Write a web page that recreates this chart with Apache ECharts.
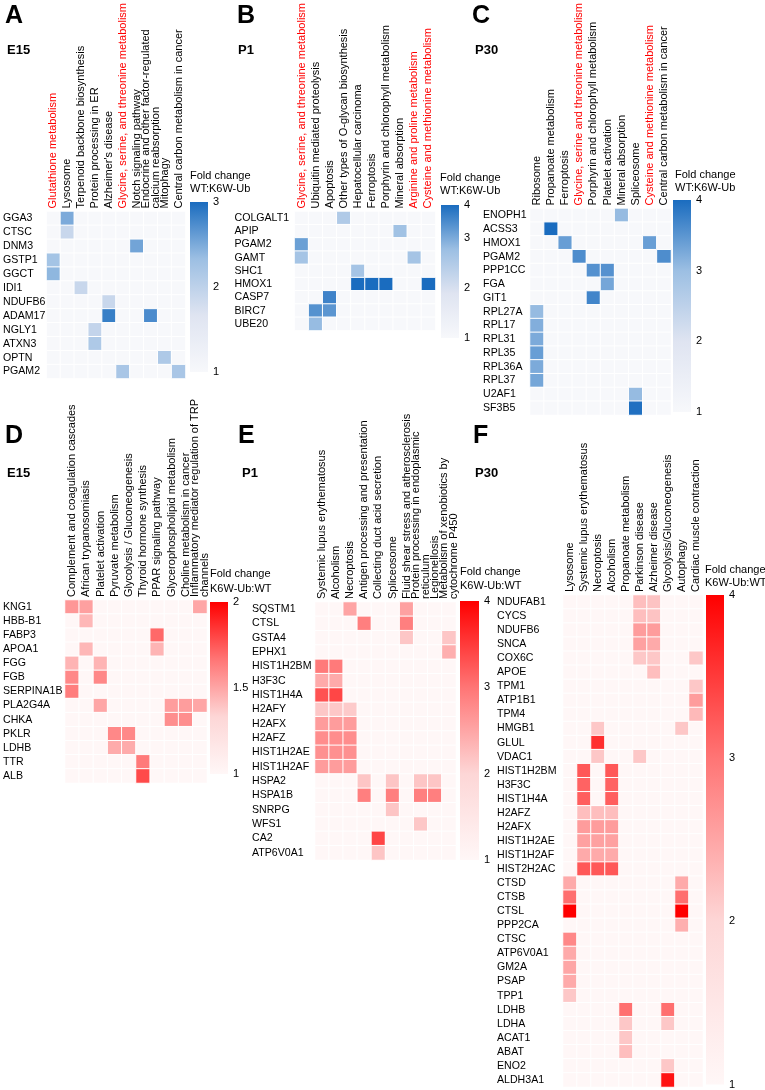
<!DOCTYPE html>
<html><head><meta charset="utf-8">
<script src="https://cdn.jsdelivr.net/npm/echarts@6/dist/echarts.min.js"></script>
<style>html,body{margin:0;padding:0;background:#fff}#c{width:765px;height:1090px}</style>
</head><body><div id="c"></div>
<script>
// ---------------- DATA ----------------
const A_rows = ['GGA3','CTSC','DNM3','GSTP1','GGCT','IDI1','NDUFB6','ADAM17','NGLY1','ATXN3','OPTN','PGAM2'];
const A_cols = ['Glutathione metabolism','Lysosome','Terpenoid backbone biosynthesis','Protein processing in ER',"Alzheimer's disease",'Glycine, serine, and threonine metabolism','Notch signaling pathway','Endocrine and other factor-regulated\ncalcium reabsorption','Mitophagy','Central carbon metabolism in cancer'];
const A_red = [0,5];
const A_scale = [1,3,1];
const A_cells = [['GGA3',1,2.5],['CTSC',1,1.9],['DNM3',6,2.55],['GSTP1',0,2.25],['GGCT',0,2.4],['IDI1',2,1.9],['NDUFB6',4,1.9],['ADAM17',4,2.85],['ADAM17',7,2.75],['NGLY1',3,1.95],['ATXN3',3,2.15],['OPTN',8,2.15],['PGAM2',5,2.2],['PGAM2',9,2.2]];

const B_rows = ['COLGALT1','APIP','PGAM2','GAMT','SHC1','HMOX1','CASP7','BIRC7','UBE20'];
const B_cols = ['Glycine, serine, and threonine metabolism','Ubiquitin mediated proteolysis','Apoptosis','Other types of O-glycan biosynthesis','Hepatocellular carcinoma','Ferroptosis','Porphyrin and chlorophyll metabolism','Mineral absorption','Arginine and proline metabolism','Cysteine and methionine metabolism'];
const B_red = [0,8,9];
const B_scale = [1,3.65,1];
const B_cells = [['COLGALT1',3,2.5],['APIP',7,2.7],['PGAM2',0,3.1],['GAMT',0,2.65],['GAMT',8,2.65],['SHC1',4,2.65],['HMOX1',4,3.65],['HMOX1',5,3.65],['HMOX1',6,3.65],['HMOX1',9,3.65],['CASP7',2,3.4],['BIRC7',1,3.25],['BIRC7',2,3.2],['UBE20',1,2.8]];

const C_rows = ['ENOPH1','ACSS3','HMOX1','PGAM2','PPP1CC','FGA','GIT1','RPL27A','RPL17','RPL31','RPL35','RPL36A','RPL37','U2AF1','SF3B5'];
const C_cols = ['Ribosome','Propanoate metabolism','Ferroptosis','Glycine, serine and threonine metabolism','Porphyrin and chlorophyll metabolism','Platelet activation','Mineral absorption','Spliceosome','Cysteine and methionine metabolism','Central carbon metabolism in cancer'];
const C_red = [3,8];
const C_scale = [1,4,1];
const C_cells = [['ENOPH1',6,3.05],['ACSS3',1,4],['HMOX1',2,3.4],['HMOX1',8,3.4],['PGAM2',3,3.6],['PGAM2',9,3.6],['PPP1CC',4,3.55],['PPP1CC',5,3.55],['FGA',5,3.3],['GIT1',4,3.7],['RPL27A',0,3.05],['RPL17',0,3.2],['RPL31',0,3.25],['RPL35',0,3.4],['RPL36A',0,3.25],['RPL37',0,3.3],['U2AF1',7,3.05],['SF3B5',7,3.95]];

const D_rows = ['KNG1','HBB-B1','FABP3','APOA1','FGG','FGB','SERPINA1B','PLA2G4A','CHKA','PKLR','LDHB','TTR','ALB'];
const D_cols = ['Complement and coagulation cascades','African trypanosomiasis','Platelet activation','Pyruvate metabolism','Glycolysis / Gluconeogenesis','Thyroid hormone synthesis','PPAR signaling pathway','Glycerophospholipid metabolism','Choline metabolism in cancer','Inflammatory mediator regulation of TRP\nchannels'];
const D_red = [];
const D_scale = [1,2,0.5];
const D_cells = [['KNG1',0,1.55],['KNG1',1,1.52],['KNG1',9,1.5],['HBB-B1',1,1.44],['FABP3',6,1.7],['APOA1',1,1.44],['APOA1',6,1.45],['FGG',0,1.45],['FGG',2,1.45],['FGB',0,1.6],['FGB',2,1.6],['SERPINA1B',0,1.64],['PLA2G4A',2,1.5],['PLA2G4A',7,1.53],['PLA2G4A',8,1.53],['PLA2G4A',9,1.5],['CHKA',7,1.58],['CHKA',8,1.58],['PKLR',3,1.6],['PKLR',4,1.6],['LDHB',3,1.48],['LDHB',4,1.48],['TTR',5,1.65],['ALB',5,1.79]];

const E_rows = ['SQSTM1','CTSL','GSTA4','EPHX1','HIST1H2BM','H3F3C','HIST1H4A','H2AFY','H2AFX','H2AFZ','HIST1H2AE','HIST1H2AF','HSPA2','HSPA1B','SNRPG','WFS1','CA2','ATP6V0A1'];
const E_cols = ['Systemic lupus erythematosus','Alcoholism','Necroptosis','Antigen processing and presentation','Collecting duct acid secretion','Spliceosome','Fluid shear stress and atherosclerosis','Protein processing in endoplasmic\nreticulum','Legionellosis','Metabolism of xenobiotics by\ncytochrome P450'];
const E_red = [];
const E_scale = [1,4,1];
const E_cells = [['SQSTM1',2,2.52],['SQSTM1',6,2.55],['CTSL',3,2.9],['CTSL',6,2.9],['GSTA4',6,2.17],['GSTA4',9,2.17],['EPHX1',9,2.4],
['HIST1H2BM',0,2.95],['HIST1H2BM',1,2.95],['H3F3C',0,2.45],['H3F3C',1,2.45],['HIST1H4A',0,3.3],['HIST1H4A',1,3.4],
['H2AFY',0,2.15],['H2AFY',1,2.15],['H2AFY',2,2.12],['H2AFX',0,2.6],['H2AFX',1,2.6],['H2AFX',2,2.6],
['H2AFZ',0,2.75],['H2AFZ',1,2.75],['H2AFZ',2,2.75],['HIST1H2AE',0,2.72],['HIST1H2AE',1,2.72],['HIST1H2AE',2,2.72],
['HIST1H2AF',0,2.6],['HIST1H2AF',1,2.6],['HIST1H2AF',2,2.6],
['HSPA2',3,2.18],['HSPA2',5,2.18],['HSPA2',7,2.18],['HSPA2',8,2.18],['HSPA1B',3,2.9],['HSPA1B',5,2.9],['HSPA1B',7,2.9],['HSPA1B',8,2.9],
['SNRPG',5,2.18],['WFS1',7,2.15],['CA2',4,3.4],['ATP6V0A1',4,2.18]];

const F_rows = ['NDUFAB1','CYCS','NDUFB6','SNCA','COX6C','APOE','TPM1','ATP1B1','TPM4','HMGB1','GLUL','VDAC1','HIST1H2BM','H3F3C','HIST1H4A','H2AFZ','H2AFX','HIST1H2AE','HIST1H2AF','HIST2H2AC','CTSD','CTSB','CTSL','PPP2CA','CTSC','ATP6V0A1','GM2A','PSAP','TPP1','LDHB','LDHA','ACAT1','ABAT','ENO2','ALDH3A1'];
const F_cols = ['Lysosome','Systemic lupus erythematosus','Necroptosis','Alcoholism','Propanoate metabolism','Parkinson disease','Alzheimer disease','Glycolysis/Gluconeogenesis','Autophagy','Cardiac muscle contraction'];
const F_red = [];
const F_scale = [1,4,1];
const F_cells = [['NDUFAB1',5,2.25],['NDUFAB1',6,2.2],['CYCS',5,2.25],['CYCS',6,2.2],['NDUFB6',5,2.6],['NDUFB6',6,2.6],['SNCA',5,2.55],['SNCA',6,2.45],
['COX6C',5,2.15],['COX6C',6,2.15],['COX6C',9,2.15],['APOE',6,2.25],['TPM1',9,2.15],['ATP1B1',9,2.6],['TPM4',9,2.3],
['HMGB1',2,2.15],['HMGB1',8,2.15],['GLUL',2,3.6],['VDAC1',2,2.15],['VDAC1',5,2.15],
['HIST1H2BM',1,3.25],['HIST1H2BM',3,3.25],['H3F3C',1,3.15],['H3F3C',3,3.15],['HIST1H4A',1,3.2],['HIST1H4A',3,3.2],
['H2AFZ',1,2.25],['H2AFZ',2,2.25],['H2AFZ',3,2.25],['H2AFX',1,2.6],['H2AFX',2,2.6],['H2AFX',3,2.6],
['HIST1H2AE',1,2.55],['HIST1H2AE',2,2.55],['HIST1H2AE',3,2.55],['HIST1H2AF',1,2.45],['HIST1H2AF',2,2.45],['HIST1H2AF',3,2.45],
['HIST2H2AC',1,3.25],['HIST2H2AC',2,3.25],['HIST2H2AC',3,3.25],
['CTSD',0,2.45],['CTSD',8,2.45],['CTSB',0,3.05],['CTSB',8,3.05],['CTSL',0,4],['CTSL',8,4],['PPP2CA',8,2.4],
['CTSC',0,2.8],['ATP6V0A1',0,2.45],['GM2A',0,2.5],['PSAP',0,2.45],['TPP1',0,2.15],
['LDHB',4,3.05],['LDHB',7,3.05],['LDHA',4,2.15],['LDHA',7,2.15],['ACAT1',4,2.15],['ABAT',4,2.25],['ENO2',7,2.15],['ALDH3A1',7,3.85]];

// ---------------- STYLE / LAYOUT ----------------
const FONT = "'Liberation Sans', Arial, Helvetica, sans-serif";
const BLUE = ['#f7f8fb','#dfe4f1','#9cbfe3','#1a6cbf'];
const RED  = ['#fff7f7','#fdd6d6','#ff7575','#ff0000'];
const LABEL_RED = '#ff0000';

const panels = [
  {letter:'A', sub:'E15', rows:A_rows, cols:A_cols, red:A_red, scale:A_scale, cells:A_cells, colors:BLUE, legend:['Fold change','WT:K6W-Ub'],
   grid:{left:45.5,top:209.5,width:140,height:169}, labelX:2, bar:{left:190,top:202,width:18,height:170},
   letterPos:[5,16], subPos:[7,50], legendPos:[190,176,189]},
  {letter:'B', sub:'P1', rows:B_rows, cols:B_cols, red:B_red, scale:B_scale, cells:B_cells, colors:BLUE, legend:['Fold change','WT:K6W-Ub'],
   grid:{left:294.5,top:205.5,width:141,height:125}, labelX:234.5, bar:{left:441,top:205,width:18,height:133},
   letterPos:[237,16], subPos:[238,50], legendPos:[440,178,191]},
  {letter:'C', sub:'P30', rows:C_rows, cols:C_cols, red:C_red, scale:C_scale, cells:C_cells, colors:BLUE, legend:['Fold change','WT:K6W-Ub'],
   grid:{left:530,top:202,width:141,height:213}, labelX:483, bar:{left:673,top:200,width:18,height:212},
   letterPos:[472,16], subPos:[475,50], legendPos:[675,175,188]},
  {letter:'D', sub:'E15', rows:D_rows, cols:D_cols, red:D_red, scale:D_scale, cells:D_cells, colors:RED, legend:['Fold change','K6W-Ub:WT'],
   grid:{left:64,top:600,width:143,height:183}, labelX:2, bar:{left:210,top:602,width:18,height:172},
   letterPos:[5,436], subPos:[7,473], legendPos:[210,574,589]},
  {letter:'E', sub:'P1', rows:E_rows, cols:E_cols, red:E_red, scale:E_scale, cells:E_cells, colors:RED, legend:['Fold change','K6W-Ub:WT'],
   grid:{left:315,top:602,width:141,height:258}, labelX:252, bar:{left:460,top:601,width:19,height:259},
   letterPos:[238,436], subPos:[242,473], legendPos:[460,572,586]},
  {letter:'F', sub:'P30', rows:F_rows, cols:F_cols, red:F_red, scale:F_scale, cells:F_cells, colors:RED, legend:['Fold change','K6W-Ub:WT'],
   grid:{left:563,top:595,width:140,height:492}, labelX:497, bar:{left:706,top:595,width:18,height:490},
   letterPos:[473,436], subPos:[475,473], legendPos:[705,570,583]}
];

// ---------------- BUILD ----------------
const option = {animation:false, backgroundColor:'#fff', textStyle:{fontFamily:FONT},
  grid:[], xAxis:[], yAxis:[], series:[], visualMap:[], graphic:[]};

panels.forEach((p, i) => {
  const gi = 2*i, bi = 2*i+1;
  const lo = p.scale[0], hi = p.scale[1], step = p.scale[2];
  option.grid.push(Object.assign({containLabel:false}, p.grid));
  option.grid.push(Object.assign({containLabel:false}, p.bar));

  option.xAxis.push({type:'category', gridIndex:gi, position:'top',
    data: p.cols.map((c,k) => p.red.indexOf(k) >= 0 ? {value:c, textStyle:{color:LABEL_RED}} : c),
    axisLine:{show:false}, axisTick:{show:false}, splitLine:{show:false},
    axisLabel:{rotate:-90, interval:0, margin:3, fontSize:11, color:'#000', fontFamily:FONT, lineHeight:10, overflow:'none'}});
  option.yAxis.push({type:'category', gridIndex:gi, inverse:true, data:p.rows,
    axisLine:{show:false}, axisTick:{show:false}, splitLine:{show:false},
    axisLabel:{interval:0, align:'left', margin:p.grid.left - p.labelX, fontSize:10.6, color:'#000', fontFamily:FONT, overflow:'none'}});

  option.xAxis.push({type:'category', gridIndex:bi, data:['scale'], show:false});
  option.yAxis.push({type:'value', gridIndex:bi, position:'right', min:lo, max:hi, interval:step,
    axisLine:{show:false}, axisTick:{show:false}, splitLine:{show:false},
    axisLabel:{margin:5, fontSize:11, color:'#000', fontFamily:FONT, showMinLabel:true, showMaxLabel:true,
      formatter: function(v){
        if (Math.abs(v-hi) < 1e-9) return String(Math.round(v) === v ? v : Math.round(v));
        if (hi !== Math.round(hi) && v === Math.round(hi)) return '';
        return String(v);
      }}});

  // heatmap data
  const lookup = {};
  p.cells.forEach(c => { lookup[c[0]+'|'+c[1]] = c[2]; });
  const data = [];
  p.rows.forEach((r, ri) => {
    p.cols.forEach((c, ci) => {
      const v = lookup[r+'|'+ci];
      data.push([ci, ri, v === undefined ? lo : v]);
    });
  });
  const hmIndex = option.series.length;
  option.series.push({type:'heatmap', xAxisIndex:gi, yAxisIndex:gi, data:data,
    itemStyle:{borderColor:'#ffffff', borderWidth:1}, emphasis:{disabled:true}, silent:true});
  option.visualMap.push({type:'continuous', show:false, min:lo, max:hi, dimension:2,
    seriesIndex:hmIndex, inRange:{color:p.colors}});

  // colour bar (stacked: transparent base up to min, then gradient from min to max)
  const stops = p.colors.slice().reverse().map((c,k,arr) => ({offset:k/(arr.length-1), color:c}));
  option.series.push({type:'bar', xAxisIndex:bi, yAxisIndex:bi, stack:'cb'+i, data:[lo],
    barWidth:'100%', itemStyle:{color:'rgba(0,0,0,0)'}, silent:true});
  option.series.push({type:'bar', xAxisIndex:bi, yAxisIndex:bi, stack:'cb'+i, data:[hi-lo],
    barWidth:'100%', itemStyle:{color:{type:'linear', x:0, y:0, x2:0, y2:1, colorStops:stops}}, silent:true});

  // texts
  option.graphic.push({type:'text', x:p.letterPos[0], y:p.letterPos[1], silent:true,
    style:{text:p.letter, font:'bold 25px '+FONT, fill:'#000', verticalAlign:'middle', align:'left'}});
  option.graphic.push({type:'text', x:p.subPos[0], y:p.subPos[1], silent:true,
    style:{text:p.sub, font:'bold 13px '+FONT, fill:'#000', verticalAlign:'middle', align:'left'}});
  option.graphic.push({type:'text', x:p.legendPos[0], y:p.legendPos[1], silent:true,
    style:{text:p.legend[0], font:'11px '+FONT, fill:'#000', verticalAlign:'middle', align:'left'}});
  option.graphic.push({type:'text', x:p.legendPos[0], y:p.legendPos[2], silent:true,
    style:{text:p.legend[1], font:'11px '+FONT, fill:'#000', verticalAlign:'middle', align:'left'}});
});

const chart = echarts.init(document.getElementById('c'), null, {renderer:'canvas'});
chart.setOption(option);
</script></body></html>
